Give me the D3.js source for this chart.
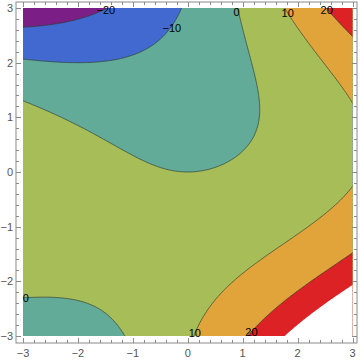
<!DOCTYPE html>
<html>
<head>
<meta charset="utf-8">
<script src="https://cdn.jsdelivr.net/npm/d3@7"></script>
<style>
  html, body { margin: 0; padding: 0; background: #fff; }
  svg { display: block; }
</style>
</head>
<body>
<svg id="chart" width="360" height="361"></svg>
<script>
// ---- data ----
const xDomain = [-3, 3];
const yDomain = [-3, 3];
const xTicks = [-3, -2, -1, 0, 1, 2, 3];
const yTicks = [-3, -2, -1, 0, 1, 2, 3];
const contourLevels = [-20, -10, 0, 10, 20];
const clipLevel = 28;               // values above this are left blank (plot range)
// surface plotted: f(x, y) = x*y^2 + x^2 - 3*y
const surfaceTerms = [ [1, 1, 2], [1, 2, 0], [-3, 0, 1] ]; // [coef, power of x, power of y]
const labelLevels = [-20, -10, 0, 10, 20, 0, 10, 20];
const labelX = [-1.49, -0.29, 0.89, 1.82, 2.53, -2.95, 0.13, 1.16];
const labelY = [2.96, 2.63, 2.93, 2.91, 2.96, -2.30, -2.95, -2.93];

// ---- styles ----
const bandColors = ["#7b1f86", "#4169cf", "#62ab98", "#a6bd58", "#e1a43a", "#dc2224", "#ffffff"];

function surface(x, y) {
  let s = 0;
  for (const [c, px, py] of surfaceTerms) s += c * Math.pow(x, px) * Math.pow(y, py);
  return s;
}

const svg = d3.select("#chart");
const x = d3.scaleLinear().domain(xDomain).range([23, 352.5]);
const y = d3.scaleLinear().domain(yDomain).range([336, 8]);
const frame = { x0: 16, x1: 357, y0: 2, y1: 343 };

// sample grid slightly beyond the domain so grid borders fall outside the clip
const n = 261;
const g0 = -3.25, g1 = 3.25;
const step = (g1 - g0) / (n - 1);
const values = new Float64Array(n * n);
for (let j = 0; j < n; j++) {
  const yy = g1 - j * step;
  for (let i = 0; i < n; i++) {
    const xx = g0 + i * step;
    values[j * n + i] = surface(xx, yy);
  }
}
const gridToX = c => g0 + (c - 0.5) * step;
const gridToY = c => g1 - (c - 0.5) * step;
const proj = d3.geoTransform({
  point(px, py) { this.stream.point(x(gridToX(px)), y(gridToY(py))); }
});
const path = d3.geoPath(proj);

svg.append("defs").append("clipPath").attr("id", "plotclip")
  .append("rect")
  .attr("x", x(xDomain[0])).attr("y", y(yDomain[1]))
  .attr("width", x(xDomain[1]) - x(xDomain[0]))
  .attr("height", y(yDomain[0]) - y(yDomain[1]));

const plot = svg.append("g").attr("clip-path", "url(#plotclip)");

plot.append("rect")
  .attr("x", x(xDomain[0])).attr("y", y(yDomain[1]))
  .attr("width", x(xDomain[1]) - x(xDomain[0]))
  .attr("height", y(yDomain[0]) - y(yDomain[1]))
  .attr("fill", bandColors[0]);

const fillThresholds = contourLevels.concat([clipLevel]);
const bands = d3.contours().size([n, n]).thresholds(fillThresholds)(Array.from(values));
bands.forEach((c, i) => {
  plot.append("path").attr("d", path(c)).attr("fill", bandColors[i + 1]).attr("stroke", "none");
});

const lines = d3.contours().size([n, n]).thresholds(contourLevels)(Array.from(values));
lines.forEach(c => {
  plot.append("path").attr("d", path(c))
    .attr("fill", "none")
    .attr("stroke", "#2f3d35")
    .attr("stroke-opacity", 0.75)
    .attr("stroke-width", 0.9);
});

// contour labels
const fmt = v => (v < 0 ? "\u2212" + Math.abs(v) : String(v));
labelLevels.forEach((lv, k) => {
  svg.append("text")
    .attr("x", x(labelX[k])).attr("y", y(labelY[k]))
    .attr("text-anchor", "middle")
    .attr("dominant-baseline", "central")
    .attr("font-family", "Liberation Sans, Arial, sans-serif")
    .attr("font-size", 11)
    .attr("fill", "#000")
    .text(fmt(lv));
});

// frame
const axisColor = "#8a8a8a";
svg.append("rect")
  .attr("x", frame.x0).attr("y", frame.y0)
  .attr("width", frame.x1 - frame.x0).attr("height", frame.y1 - frame.y0)
  .attr("fill", "none").attr("stroke", axisColor).attr("stroke-width", 1);

const minorX = d3.range(-3, 3.0001, 0.2).map(v => Math.round(v * 10) / 10);
const ticksG = svg.append("g").attr("stroke", axisColor).attr("stroke-width", 1);
minorX.forEach(v => {
  const major = Math.abs(v - Math.round(v)) < 1e-6;
  const len = major ? 5 : 3;
  const px = Math.round(x(v)) + 0.5;
  ticksG.append("line").attr("x1", px).attr("x2", px).attr("y1", frame.y1).attr("y2", frame.y1 - len);
  ticksG.append("line").attr("x1", px).attr("x2", px).attr("y1", frame.y0).attr("y2", frame.y0 + len);
  const py = Math.round(y(v)) + 0.5;
  ticksG.append("line").attr("y1", py).attr("y2", py).attr("x1", frame.x0).attr("x2", frame.x0 + len);
  ticksG.append("line").attr("y1", py).attr("y2", py).attr("x1", frame.x1).attr("x2", frame.x1 - len);
});

const tickFont = { family: "Liberation Sans, Arial, sans-serif", size: 11, color: "#555" };
xTicks.forEach(v => {
  svg.append("text").attr("x", x(v)).attr("y", frame.y1 + 10)
    .attr("text-anchor", "middle").attr("dominant-baseline", "central")
    .attr("font-family", tickFont.family).attr("font-size", tickFont.size)
    .attr("fill", tickFont.color).text(fmt(v));
});
yTicks.forEach(v => {
  svg.append("text").attr("x", frame.x0 - 3).attr("y", y(v))
    .attr("text-anchor", "end").attr("dominant-baseline", "central")
    .attr("font-family", tickFont.family).attr("font-size", tickFont.size)
    .attr("fill", tickFont.color).text(fmt(v));
});
</script>
</body>
</html>
